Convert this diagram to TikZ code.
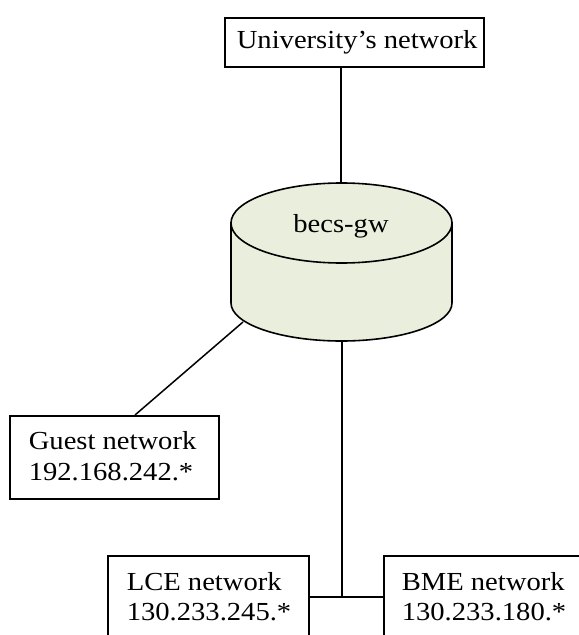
\documentclass[tikz,border=0pt]{standalone}
\usepackage{fontspec}
\setmainfont{Liberation Serif}[FakeStretch=1.1]
\begin{document}
\begin{tikzpicture}[x=1bp,y=-1bp,line width=1.6bp,
  box/.style={draw=black,fill=white,rectangle,inner sep=0pt},
  lbl/.style={anchor=base west,inner sep=0pt,font=\fontsize{26bp}{30bp}\selectfont},
  wire/.style={draw=black,line width=1.5bp}]
\definecolor{gwfill}{RGB}{234,238,220}
\useasboundingbox (0,0) rectangle (579,635);
\clip (0,0) rectangle (579,635);

% gateway cylinder
\path[fill=gwfill,draw=black] (231,223) -- (231,303)
  arc[start angle=180,end angle=360,x radius=110.5bp,y radius=38bp] -- (452,223) -- cycle;
\draw[fill=gwfill] (341.5,223) ellipse[x radius=110.5bp,y radius=40bp];
\coordinate (gwtop) at (341,183);
\coordinate (gwbot) at (342,341);
\coordinate (gwleft) at (243,322);
\node[anchor=base,inner sep=0pt,font=\fontsize{26bp}{30bp}\selectfont] (gw) at (341,232) {becs-gw};

% boxes
\node[box,anchor=north west,minimum width=259bp,minimum height=49bp] (uni) at (224,17) {};
\node[lbl] (unit) at (236,49) {University’s network};

\node[box,anchor=north west,minimum width=209bp,minimum height=83bp] (guest) at (9,415) {};
\node[lbl] (guest1) at (28,449) {Guest network};
\node[lbl] (guest2) at (28,480) {192.168.242.*};

\node[box,anchor=north west,minimum width=201bp,minimum height=110bp] (lce) at (107,555) {};
\node[lbl] (lce1) at (126,590) {LCE network};
\node[lbl] (lce2) at (126,620) {130.233.245.*};

\node[box,anchor=north west,minimum width=230bp,minimum height=110bp] (bme) at (383,555) {};
\node[lbl] (bme1) at (401,590) {BME network};
\node[lbl] (bme2) at (401,620) {130.233.180.*};

% links
\coordinate (guesttop) at (135,415);
\coordinate (split) at (344,597);
\draw[wire] (uni.south -| gwtop) -- (gwtop);
\draw[wire] (guesttop) -- (gwleft);
\draw[wire] (gwbot) -- (gwbot |- split);
\draw[wire] (lce.east |- split) -- (bme.west |- split);
\end{tikzpicture}
\end{document}
